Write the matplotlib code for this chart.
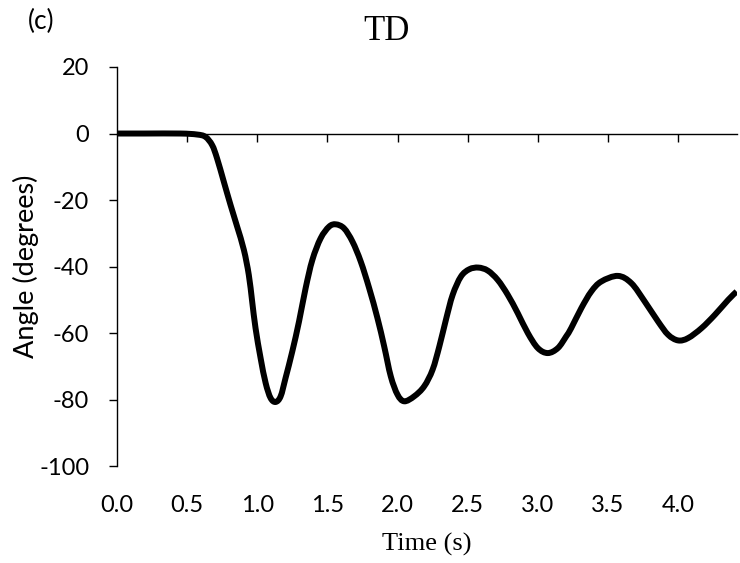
import matplotlib
matplotlib.use("Agg")
import matplotlib.pyplot as plt
from matplotlib.path import Path
from matplotlib.patches import PathPatch

# Time (s) and angle (degrees) traced along the TD response
time_s = [0.00, 0.20, 0.452, 0.571, 0.631, 0.679, 0.714, 0.762, 0.81, 0.857, 0.905,
          0.94, 0.964, 0.988, 1.024, 1.06, 1.095, 1.131, 1.167, 1.202, 1.25, 1.298,
          1.345, 1.393, 1.452, 1.512, 1.56, 1.619, 1.679, 1.738, 1.798, 1.857,
          1.905, 1.952, 2.0, 2.048, 2.119, 2.19, 2.25, 2.298, 2.345, 2.393, 2.452,
          2.512, 2.576, 2.643, 2.714, 2.786, 2.857, 2.929, 3.0, 3.071, 3.143,
          3.202, 3.238, 3.31, 3.381, 3.452, 3.571, 3.667, 3.762, 3.857, 3.929,
          4.0, 4.071, 4.167, 4.262, 4.357, 4.417]
angle_deg = [0.0, 0.0, 0.0, -0.3, -1.0, -3.5, -7.5, -14.5, -21.5, -28.0, -35.0,
             -42.5, -50.5, -58.5, -67.5, -75.0, -79.5, -80.7, -79.0, -73.5, -65.5, -56.5,
             -46.5, -38.0, -31.5, -28.0, -27.3, -28.5, -32.5, -38.5, -46.5, -55.5,
             -64.0, -73.0, -78.5, -80.5, -79.0, -76.0, -71.0, -64.0, -56.0, -48.5, -43.0,
             -40.8, -40.3, -41.2, -44.0, -48.5, -54.0, -60.0, -64.5, -66.0, -64.5,
             -61.0, -58.5, -52.5, -47.5, -44.5, -42.8, -45.0, -50.5, -56.5, -60.5,
             -62.2, -61.5, -58.5, -54.5, -50.0, -47.5]

x_ticks = [0.5, 1.0, 1.5, 2.0, 2.5, 3.0, 3.5, 4.0]
x_labels = [0.0, 0.5, 1.0, 1.5, 2.0, 2.5, 3.0, 3.5, 4.0]
y_ticks = [20, 0, -20, -40, -60, -80, -100]

sans = "Lato"
serif = "Liberation Serif"


def smooth_path(xs, ys):
    """Bezier path through the points, like a spreadsheet 'smoothed line'."""
    pts = list(zip(xs, ys))
    verts = [pts[0]]
    codes = [Path.MOVETO]
    n = len(pts)
    for i in range(n - 1):
        p0 = pts[max(i - 1, 0)]
        p1 = pts[i]
        p2 = pts[i + 1]
        p3 = pts[min(i + 2, n - 1)]
        c1 = (p1[0] + (p2[0] - p0[0]) / 6, p1[1] + (p2[1] - p0[1]) / 6)
        c2 = (p2[0] - (p3[0] - p1[0]) / 6, p2[1] - (p3[1] - p1[1]) / 6)
        verts += [c1, c2, p2]
        codes += [Path.CURVE4] * 3
    return Path(verts, codes)


fig = plt.figure(figsize=(7.4, 5.63), dpi=100)
ax = fig.add_axes([0.158, 0.172, 0.838, 0.709])

curve = PathPatch(smooth_path(time_s, angle_deg), facecolor="none", edgecolor="black",
                  lw=4.3, capstyle="butt", joinstyle="round", zorder=3)
ax.add_patch(curve)

ax.set_xlim(0, 4.42)
ax.set_ylim(-100, 20)

for side in ("top", "right"):
    ax.spines[side].set_visible(False)
ax.spines["left"].set_linewidth(1.0)
ax.spines["bottom"].set_position(("data", 0))
ax.spines["bottom"].set_linewidth(1.0)

ax.set_yticks(y_ticks)
ax.set_yticklabels([str(v) for v in y_ticks], fontfamily=sans, fontsize=17)
ax.tick_params(axis="y", direction="out", length=6, width=1.0, pad=14)

ax.set_xticks(x_ticks)
ax.tick_params(axis="x", direction="out", length=6, width=1.0, labelbottom=False)

# tick labels sit below the plot, not on the zero line
sec = ax.secondary_xaxis("bottom")
sec.set_xticks(x_labels)
sec.set_xticklabels([f"{v:.1f}" for v in x_labels], fontfamily=sans, fontsize=17)
sec.tick_params(axis="x", length=0, pad=21)
sec.spines["bottom"].set_visible(False)

ax.set_ylabel("Angle (degrees)", fontfamily=sans, fontsize=19.5)
ax.yaxis.set_label_coords(-0.125, 0.5)

fig.text(386 / 740, 1 - 31.5 / 563, "TD", fontfamily=serif, fontsize=25,
         ha="center", va="center")
fig.text(426.5 / 740, 1 - 544 / 563, "Time (s)", fontfamily=serif, fontsize=19,
         ha="center", va="center")
fig.text(41 / 740, 1 - 21 / 563, "(c)", fontfamily=sans, fontsize=19,
         ha="center", va="center")

fig.savefig("out.png", dpi=100)
